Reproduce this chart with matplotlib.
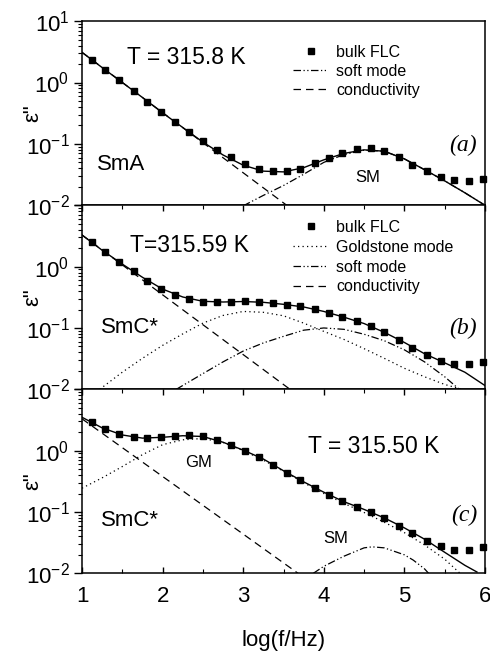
import matplotlib
matplotlib.use("Agg")
import matplotlib.pyplot as plt
from matplotlib.ticker import MultipleLocator, LogLocator, NullFormatter
from matplotlib.lines import Line2D

plt.rcParams['font.family'] = ['Liberation Sans', 'DejaVu Sans']
plt.rcParams['mathtext.default'] = 'regular'

# measured points (bulk FLC), same frequencies in all three panels
freq = [1.12, 1.29, 1.46, 1.64, 1.81, 1.98, 2.15, 2.33, 2.50, 2.67,
        2.85, 3.02, 3.20, 3.37, 3.54, 3.71, 3.89, 4.06, 4.23, 4.41,
        4.58, 4.75, 4.93, 5.10, 5.28, 5.45, 5.62, 5.80, 5.98]
eps_a = [2.36, 1.6, 1.09, 0.73, 0.49, 0.33, 0.228, 0.157, 0.111, 0.081,
         0.062, 0.047, 0.0386, 0.0357, 0.0367, 0.0395, 0.0484, 0.060, 0.0716, 0.082,
         0.0855, 0.076, 0.062, 0.046, 0.036, 0.029, 0.0254, 0.0248, 0.0271]
eps_b = [2.52, 1.71, 1.18, 0.84, 0.59, 0.44, 0.35, 0.293, 0.265, 0.262,
         0.268, 0.272, 0.268, 0.252, 0.24, 0.225, 0.204, 0.178, 0.153, 0.128,
         0.108, 0.085, 0.064, 0.048, 0.0358, 0.029, 0.0259, 0.0259, 0.0275]
eps_c = [2.97, 2.23, 1.86, 1.64, 1.60, 1.66, 1.72, 1.77, 1.70, 1.47,
         1.23, 1.0, 0.78, 0.594, 0.44, 0.336, 0.25, 0.19, 0.149, 0.122,
         0.1, 0.079, 0.059, 0.045, 0.033, 0.0276, 0.0244, 0.0238, 0.027]

# fit curves
grid = [1.0, 1.25, 1.5, 1.75, 2.0, 2.25, 2.5, 2.75, 3.0, 3.25, 3.5,
        3.75, 4.0, 4.25, 4.5, 4.75, 5.0, 5.25, 5.5, 5.75, 6.0]

# (a) SmA
fit_a = [3.1, 1.75, 1.0, 0.57, 0.32, 0.185, 0.107, 0.066, 0.045, 0.036, 0.035,
         0.041, 0.055, 0.070, 0.080, 0.076, 0.057, 0.038, 0.025, 0.016, 0.010]
sm_a_x = [3.0, 3.25, 3.5, 3.75, 4.0, 4.25, 4.5, 4.75, 5.0, 5.25, 5.5, 5.75, 6.0]
sm_a = [0.0098, 0.0145, 0.021, 0.032, 0.050, 0.067, 0.079, 0.076, 0.057, 0.038, 0.025, 0.016, 0.010]
cond_a_x = [1.0, 3.54]
cond_a = [3.1, 0.010]

# (b) SmC*, 315.59 K
fit_b = [3.28, 1.85, 1.1, 0.67, 0.43, 0.32, 0.272, 0.265, 0.27, 0.262, 0.243,
         0.22, 0.186, 0.15, 0.118, 0.085, 0.058, 0.038, 0.027, 0.019, 0.0115]
gm_b_x = [1.22, 1.5, 1.75, 2.0, 2.25, 2.5, 2.75, 3.0, 3.25, 3.5, 3.75,
          4.0, 4.25, 4.5, 4.75, 5.0, 5.25, 5.5, 5.71]
gm_b = [0.010, 0.019, 0.032, 0.052, 0.08, 0.12, 0.16, 0.186, 0.18, 0.158, 0.12,
        0.088, 0.065, 0.046, 0.032, 0.022, 0.016, 0.012, 0.010]
sm_b_x = [2.17, 2.5, 2.75, 3.0, 3.25, 3.5, 3.75, 4.0, 4.25, 4.5, 4.75, 5.0, 5.25, 5.5, 5.68]
sm_b = [0.010, 0.018, 0.028, 0.042, 0.057, 0.073, 0.092, 0.1, 0.095, 0.079,
        0.062, 0.044, 0.028, 0.016, 0.010]
cond_b_x = [1.0, 3.58]
cond_b = [3.28, 0.010]

# (c) SmC*, 315.50 K
fit_c_x = grid[:-1] + [5.9]
fit_c = [3.5, 2.35, 1.8, 1.6, 1.65, 1.75, 1.7, 1.37, 1.02, 0.73, 0.47,
         0.31, 0.21, 0.147, 0.11, 0.08, 0.055, 0.036, 0.022, 0.0135, 0.0105]
gm_c_x = grid[:-2] + [5.69]
gm_c = [0.244, 0.36, 0.55, 0.86, 1.25, 1.5, 1.58, 1.36, 1.0, 0.70, 0.46,
        0.30, 0.20, 0.138, 0.098, 0.068, 0.046, 0.029, 0.017, 0.010]
sm_c_x = [3.87, 4.0, 4.25, 4.5, 4.6, 4.75, 5.0, 5.11, 5.25, 5.30]
sm_c = [0.010, 0.013, 0.019, 0.026, 0.027, 0.026, 0.020, 0.0164, 0.0118, 0.010]
cond_c_x = [1.0, 3.68]
cond_c = [3.3, 0.010]

ls_dash = (0, (6, 4))
ls_dot = (0, (1, 2.6))
ls_dashdot = (0, (6, 2, 1, 2, 1, 2))

W, H = 490, 654


def fx(px):
    return px / W


def fy(py):
    return 1 - py / H


fig = plt.figure(figsize=(W / 100, H / 100), dpi=100)
panel_px = [(21.1, 205.3), (205.3, 389.3), (389.3, 573.3)]
axes = []
for top, bot in panel_px:
    ax = fig.add_axes([fx(82), fy(bot), fx(485) - fx(82), (bot - top) / H])
    axes.append(ax)

for i, ax in enumerate(axes):
    ax.set_yscale('log')
    ax.set_xlim(1, 6)
    ax.set_ylim(1e-2, 1e1)
    ax.xaxis.set_major_locator(MultipleLocator(1))
    ax.xaxis.set_minor_locator(MultipleLocator(0.5))
    ax.yaxis.set_minor_locator(LogLocator(base=10, subs=range(2, 10)))
    ax.yaxis.set_minor_formatter(NullFormatter())
    ax.set_yticks([1e-2, 1e-1, 1e0, 1e1])
    labels = ['$10^{-2}$', '$10^{-1}$', '$10^{0}$', '$10^{1}$']
    if i > 0:
        labels[-1] = ''
    ax.set_yticklabels(labels)
    ax.tick_params(axis='y', which='major', direction='out', length=6, width=1,
                   pad=3, labelsize=16, right=False)
    ax.tick_params(axis='y', which='minor', direction='out', length=3, width=0.8, right=False)
    ax.tick_params(axis='x', which='major', direction='in', length=4.5, width=1,
                   top=(i > 0), bottom=(i == 2), labelbottom=(i == 2), pad=9.5, labelsize=16)
    ax.tick_params(axis='x', which='minor', direction='in', length=3, width=0.8,
                   top=(i > 0), bottom=(i == 2))
    for sp in ax.spines.values():
        sp.set_linewidth(1.1)
    ax.set_ylabel('ε"', fontsize=16, labelpad=0)
    ax.yaxis.set_label_coords(-0.095, 0.5)

mk = dict(marker='s', ms=4.6, color='black', ls='none', clip_on=False, zorder=5)

# panel (a)
ax = axes[0]
ax.plot(freq, eps_a, **mk)
ax.plot(grid, fit_a, color='black', lw=1.0)
ax.plot(sm_a_x, sm_a, color='black', lw=0.9, ls=ls_dashdot)
ax.plot(cond_a_x, cond_a, color='black', lw=0.9, ls=ls_dash)
handles = [Line2D([], [], **{**mk, 'clip_on': True}),
           Line2D([], [], color='black', lw=0.9, ls=ls_dashdot),
           Line2D([], [], color='black', lw=0.9, ls=ls_dash)]
ax.legend(handles, ['bulk FLC', 'soft mode', 'conductivity'], loc='upper left',
          bbox_to_anchor=(fx(293), fy(45)), bbox_transform=fig.transFigure,
          frameon=False, fontsize=11.5, handlelength=2.2, handletextpad=0.5,
          labelspacing=0.25, borderpad=0, borderaxespad=0, numpoints=1)

# panel (b)
ax = axes[1]
ax.plot(freq, eps_b, **mk)
ax.plot(grid, fit_b, color='black', lw=1.0)
ax.plot(gm_b_x, gm_b, color='black', lw=0.9, ls=ls_dot)
ax.plot(sm_b_x, sm_b, color='black', lw=0.9, ls=ls_dashdot)
ax.plot(cond_b_x, cond_b, color='black', lw=0.9, ls=ls_dash)
handles = [Line2D([], [], **{**mk, 'clip_on': True}),
           Line2D([], [], color='black', lw=0.9, ls=ls_dot),
           Line2D([], [], color='black', lw=0.9, ls=ls_dashdot),
           Line2D([], [], color='black', lw=0.9, ls=ls_dash)]
ax.legend(handles, ['bulk FLC', 'Goldstone mode', 'soft mode', 'conductivity'], loc='upper left',
          bbox_to_anchor=(fx(293), fy(220)), bbox_transform=fig.transFigure,
          frameon=False, fontsize=11.5, handlelength=2.2, handletextpad=0.5,
          labelspacing=0.3, borderpad=0, borderaxespad=0, numpoints=1)

# panel (c)
ax = axes[2]
ax.plot(freq, eps_c, **mk)
ax.plot(fit_c_x, fit_c, color='black', lw=1.0)
ax.plot(gm_c_x, gm_c, color='black', lw=0.9, ls=ls_dot)
ax.plot(sm_c_x, sm_c, color='black', lw=0.9, ls=ls_dashdot)
ax.plot(cond_c_x, cond_c, color='black', lw=0.9, ls=ls_dash)
ax.set_xlabel('log(f/Hz)', fontsize=16, labelpad=16)

# annotations
big = 16.5
fig.text(fx(127), fy(64), 'T = 315.8 K', fontsize=big, va='baseline')
fig.text(fx(97), fy(170), 'SmA', fontsize=16, va='baseline')
fig.text(fx(355), fy(182), 'SM', fontsize=12, va='baseline')
fig.text(fx(130), fy(252), 'T=315.59 K', fontsize=big, va='baseline')
fig.text(fx(101), fy(333), 'SmC*', fontsize=16, va='baseline')
fig.text(fx(308), fy(453), 'T = 315.50 K', fontsize=big, va='baseline')
fig.text(fx(185), fy(467), 'GM', fontsize=12, va='baseline')
fig.text(fx(101), fy(526), 'SmC*', fontsize=16, va='baseline')
fig.text(fx(323), fy(543), 'SM', fontsize=12, va='baseline')
serif = dict(family=['Liberation Serif', 'DejaVu Serif'], style='italic', fontsize=17,
             ha='right', va='baseline')
fig.text(fx(477), fy(151), '(a)', **serif)
fig.text(fx(477), fy(334), '(b)', **serif)
fig.text(fx(477), fy(521), '(c)', **serif)

fig.savefig('out.png', dpi=100)
